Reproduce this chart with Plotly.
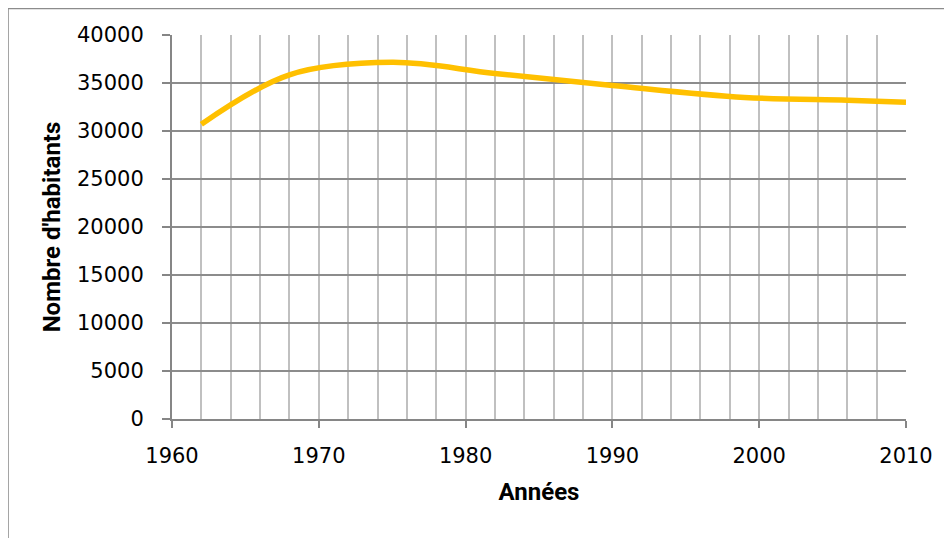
import plotly.graph_objects as go

# Population par recensement
annees = [1962, 1968, 1975, 1982, 1990, 1999, 2006, 2010]
habitants = [30700, 35850, 37150, 36000, 34750, 33500, 33200, 33000]

y_ticks = [0, 5000, 10000, 15000, 20000, 25000, 30000, 35000, 40000]
x_ticks = [1960, 1970, 1980, 1990, 2000, 2010]

fig = go.Figure()

fig.add_trace(go.Scatter(
    x=annees, y=habitants, mode='lines',
    line=dict(color='#FFC000', width=5.5, shape='spline', smoothing=1.0),
    showlegend=False, hoverinfo='skip'))

title_font = dict(family='Roboto, sans-serif', size=24, color='black')

fig.update_layout(
    width=952, height=538,
    margin=dict(l=164, r=54, t=27, b=127),
    paper_bgcolor='white', plot_bgcolor='white',
    font=dict(family='DejaVu Sans, sans-serif', size=21, color='black'),
    xaxis=dict(
        range=[1960, 2010], tickvals=x_ticks, ticktext=[str(v) for v in x_ticks],
        showgrid=False,
        # grille verticale tous les 2 ans
        minor=dict(dtick=2, tick0=1960, showgrid=True, gridcolor='#C0C0C0', gridwidth=1.5),
        showline=True, linecolor='#868686', linewidth=2,
        ticks='outside', ticklen=7, tickcolor='#868686', tickwidth=1.5,
        ticklabelstandoff=10,
        title=dict(text="<b>Années</b>", font=title_font, standoff=16),
        zeroline=False, fixedrange=True),
    yaxis=dict(
        range=[0, 40000], tickvals=y_ticks, ticktext=[str(v) for v in y_ticks],
        showgrid=True, gridcolor='#8C8C8C', gridwidth=1.5,
        showline=True, linecolor='#868686', linewidth=2,
        ticks='outside', ticklen=8, tickcolor='#868686', tickwidth=1.5,
        ticklabelstandoff=14,
        title=dict(text="<b>Nombre d'habitants</b>", font=title_font, standoff=10),
        zeroline=False, fixedrange=True),
)

# cadre du graphique
fig.add_shape(type='rect', xref='paper', yref='paper',
              x0=-0.2234, y0=-1.0, x1=2.0, y1=1.069,
              line=dict(color='#8C8C8C', width=1.5), layer='below')

fig.write_html("out.html")
